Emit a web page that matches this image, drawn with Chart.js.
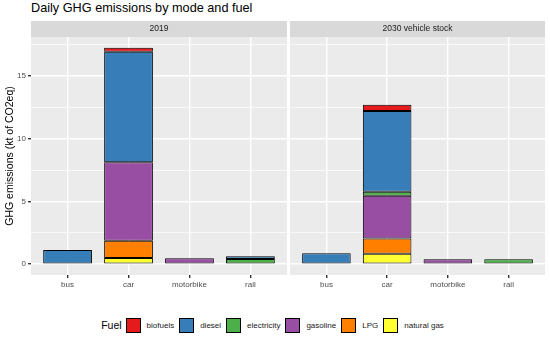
<!DOCTYPE html>
<html>
<head>
<meta charset="utf-8">
<script src="https://cdn.jsdelivr.net/npm/chart.js@4.4.1/dist/chart.umd.min.js"></script>
<style>
  body { margin: 0; width: 550px; height: 337px; background: #fff; position: relative; overflow: hidden;
         font-family: "Liberation Sans", Arial, sans-serif; }
  #title { position: absolute; left: 31px; top: 1px; font-size: 12.7px; line-height: 15px; color: #000; }
  canvas { position: absolute; top: 0; }
  #legend { position: absolute; left: 0; top: 317px; width: 550px; height: 16px; display: flex;
            justify-content: center; align-items: center; font-size: 8px; color: #1A1A1A; }
  #legend .ttl { font-size: 10.5px; margin-right: 4px; color: #000; }
  #legend .key { width: 15px; height: 15px; box-sizing: border-box; border: 1px solid #000; margin-right: 6px; }
  #legend .lbl { margin-right: 5px; }
</style>
</head>
<body>
<div id="title">Daily GHG emissions by mode and fuel</div>
<canvas id="p2019" width="289" height="299" style="left:0"></canvas>
<canvas id="p2030" width="262" height="299" style="left:288px"></canvas>
<div id="legend"></div>
<script>
const modes = ['bus', 'car', 'motorbike', 'rail'];
const fuels = ['biofuels', 'diesel', 'electricity', 'gasoline', 'LPG', 'natural gas'];
const facets = ['2019', '2030 vehicle stock'];

// kt CO2eq per mode (bus, car, motorbike, rail)
const biofuels2019 = [0, 0.32, 0, 0];
const diesel2019 = [1.13, 8.8, 0, 0.22];
const electricity2019 = [0, 0, 0, 0.42];
const gasoline2019 = [0, 6.27, 0.48, 0];
const lpg2019 = [0, 1.37, 0, 0];
const naturalGas2019 = [0, 0.5, 0, 0];

const biofuels2030 = [0, 0.51, 0, 0];
const diesel2030 = [0.87, 6.43, 0, 0];
const electricity2030 = [0, 0.32, 0, 0.4];
const gasoline2030 = [0, 3.41, 0.4, 0];
const lpg2030 = [0, 1.22, 0, 0];
const naturalGas2030 = [0, 0.83, 0, 0];

const yTickLabels = [0, 5, 10, 15];
const yMinorTicks = [2.5, 7.5, 12.5, 17.5];

const colors = ['#E41A1C', '#377EB8', '#4DAF4A', '#984EA3', '#FF7F00', '#FFFF33'];

const series2019 = [biofuels2019, diesel2019, electricity2019, gasoline2019, lpg2019, naturalGas2019];
const series2030 = [biofuels2030, diesel2030, electricity2030, gasoline2030, lpg2030, naturalGas2030];

const FONT = '"Liberation Sans", Arial, sans-serif';

// shared y range like ggplot (5% expansion of 0..max stack)
const maxStack = Math.max(...[series2019, series2030].flatMap(s => modes.map((m, i) => s.reduce((a, d) => a + d[i], 0))));
const yMin = -maxStack * 0.05;
const yMax = maxStack * 1.05;

const panelPlugin = {
  id: 'panel',
  beforeDraw(chart, args, opts) {
    const { ctx, chartArea: a } = chart;
    ctx.save();
    ctx.fillStyle = '#EBEBEB';
    ctx.fillRect(a.left, a.top, a.right - a.left, a.bottom - a.top);
    ctx.fillStyle = '#D9D9D9';
    ctx.fillRect(a.left, a.top - 16, a.right - a.left, 16);
    ctx.fillStyle = '#1A1A1A';
    ctx.font = '8.5px ' + FONT;
    ctx.textAlign = 'center';
    ctx.textBaseline = 'middle';
    ctx.fillText(opts.text, (a.left + a.right) / 2, a.top - 8);
    ctx.restore();
  }
};

function makePanel(id, series, strip, showY) {
  // ggplot stacks the last level at the bottom
  const order = fuels.map((f, i) => i).reverse();
  const datasets = order.map(k => ({
    label: fuels[k],
    data: series[k].map((v, i) => ({ x: i + 1, y: v > 0 ? v : null })),
    backgroundColor: colors[k],
    borderColor: '#000',
    borderWidth: 1,
    borderSkipped: false,
    barPercentage: 0.8,
    categoryPercentage: 1,
    stack: 'fuel'
  }));

  new Chart(document.getElementById(id), {
    type: 'bar',
    data: { datasets },
    plugins: [panelPlugin],
    options: {
      responsive: false,
      animation: false,
      layout: { padding: { top: 37, right: showY ? 2 : 5, left: 0, bottom: 0 } },
      plugins: { legend: { display: false }, tooltip: { enabled: false }, panel: { text: strip } },
      scales: {
        x: {
          type: 'linear',
          offset: false,
          min: 0.4,
          max: 4.6,
          afterBuildTicks: s => { s.ticks = modes.map((m, i) => ({ value: i + 1 })); },
          afterFit: s => { s.height = 24; },
          border: { display: false },
          grid: { offset: false, color: '#FFFFFF', lineWidth: 1.4, tickLength: 3, tickColor: '#333333' },
          ticks: { autoSkip: false, maxRotation: 0, padding: 2, color: '#4D4D4D',
                   font: { size: 8, family: FONT }, callback: v => modes[v - 1] }
        },
        y: {
          stacked: true,
          min: yMin,
          max: yMax,
          afterBuildTicks: s => {
            s.ticks = yTickLabels.concat(yMinorTicks).sort((a, b) => a - b).map(v => ({ value: v }));
          },
          afterFit: s => { s.width = showY ? 31 : 2; },
          border: { display: false },
          grid: {
            color: '#FFFFFF',
            lineWidth: c => (c.tick && yTickLabels.includes(c.tick.value)) ? 1.4 : 0.7,
            drawTicks: showY,
            tickLength: 3,
            tickColor: c => (c.tick && yTickLabels.includes(c.tick.value)) ? '#333333' : 'rgba(0,0,0,0)'
          },
          ticks: { display: showY, autoSkip: false, padding: 2, color: '#4D4D4D',
                   font: { size: 8, family: FONT },
                   callback: v => yTickLabels.includes(v) ? String(v) : '' },
          title: { display: showY, text: 'GHG emissions (kt of CO2eq)', color: '#000',
                   font: { size: 10.5, family: FONT }, padding: { top: 4, bottom: 0 } }
        }
      }
    }
  });
}

makePanel('p2019', series2019, facets[0], true);
makePanel('p2030', series2030, facets[1], false);

// legend
const legend = document.getElementById('legend');
legend.innerHTML = '<span class="ttl">Fuel</span>' + fuels.map((f, i) =>
  '<span class="key" style="background:' + colors[i] + '"></span><span class="lbl">' + f + '</span>').join('');
</script>
</body>
</html>
